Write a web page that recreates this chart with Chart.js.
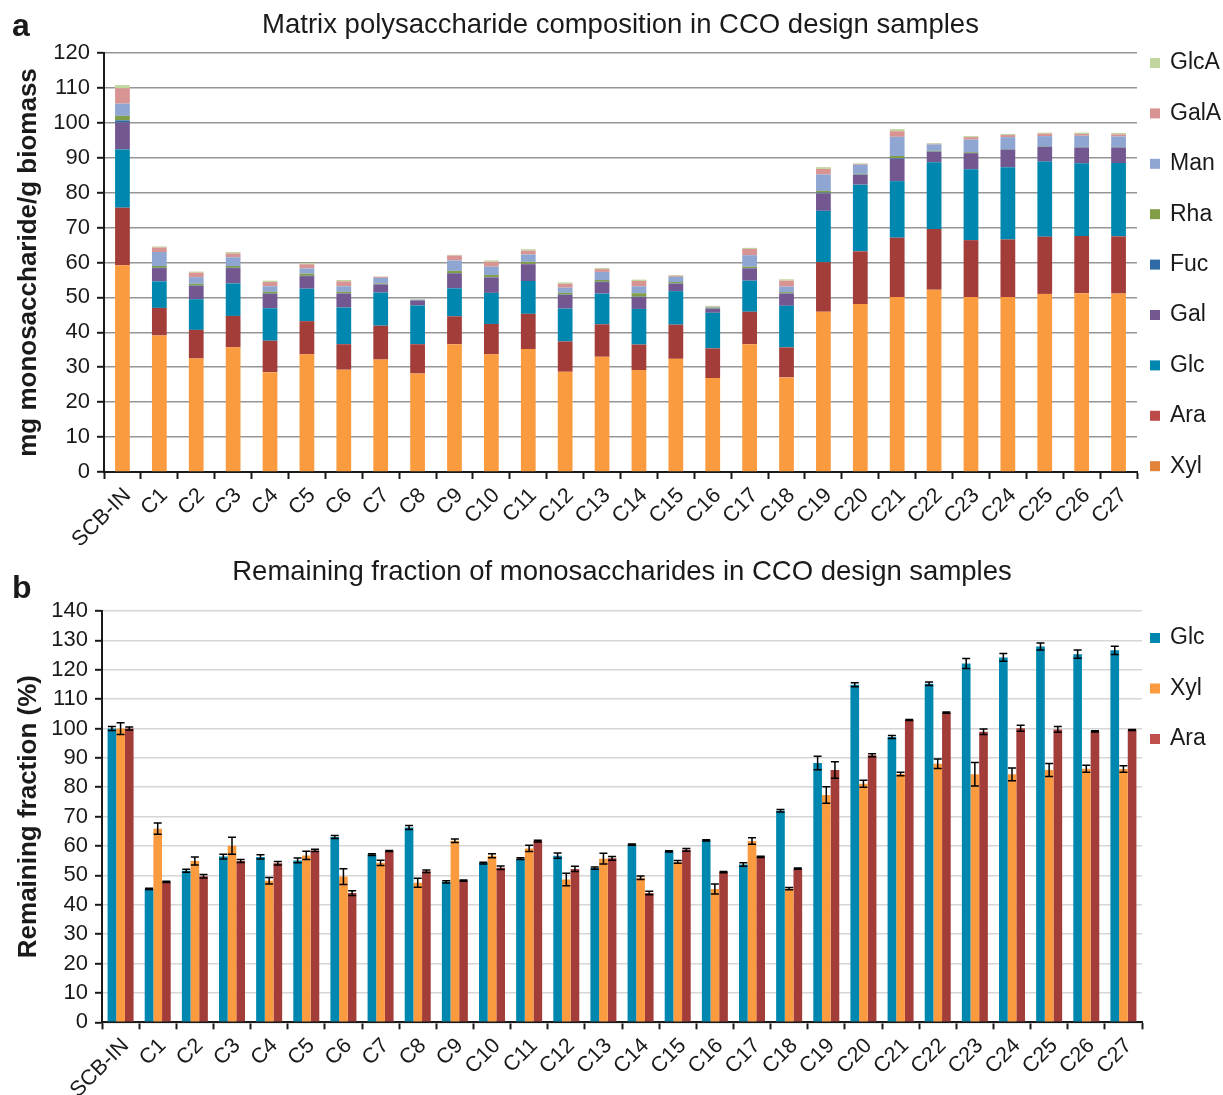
<!DOCTYPE html>
<html>
<head>
<meta charset="utf-8">
<script src="https://cdn.jsdelivr.net/npm/chart.js@4/dist/chart.umd.min.js"></script>
<style>
  html, body { margin: 0; padding: 0; background: #ffffff; }
  #page { position: relative; width: 1223px; height: 1095px; }
  #boxA { position: absolute; left: 0; top: 0; width: 1223px; height: 545px; }
  #boxB { position: absolute; left: 0; top: 545px; width: 1223px; height: 550px; }
</style>
</head>
<body>
<div id="page">
  <div id="boxA"><canvas id="chartA"></canvas></div>
  <div id="boxB"><canvas id="chartB"></canvas></div>
</div>
<script>
// Sample names shared by both panels
const categories = ['SCB-IN', 'C1', 'C2', 'C3', 'C4', 'C5', 'C6', 'C7', 'C8', 'C9', 'C10', 'C11', 'C12', 'C13',
  'C14', 'C15', 'C16', 'C17', 'C18', 'C19', 'C20', 'C21', 'C22', 'C23', 'C24', 'C25', 'C26', 'C27'];

// Panel a: mg monosaccharide per g biomass (stacked)
const xylMass  = [59.2, 39.1, 32.5, 35.7, 28.6, 33.7, 29.3, 32.2, 28.2, 36.6, 33.7, 35.2, 28.7, 33.0, 29.2, 32.4, 26.9, 36.6, 27.1, 45.9, 48.1, 50.1, 52.2, 50.1, 50.1, 51.0, 51.2, 51.1];
const araMass  = [16.5, 7.9, 8.2, 9.0, 9.0, 9.5, 7.3, 9.7, 8.4, 8.0, 8.7, 10.1, 8.7, 9.3, 7.3, 9.8, 8.5, 9.3, 8.6, 14.2, 15.1, 17.0, 17.4, 16.3, 16.5, 16.4, 16.4, 16.4];
const glcMass  = [16.7, 7.6, 8.8, 9.3, 9.3, 9.3, 10.5, 9.5, 11.1, 8.0, 8.9, 9.4, 9.4, 8.8, 10.2, 9.6, 10.2, 8.9, 11.9, 14.7, 19.1, 16.2, 19.1, 20.3, 20.7, 21.5, 20.8, 21.0];
const galMass  = [7.7, 3.8, 3.8, 4.4, 4.1, 3.6, 4.0, 2.3, 1.4, 4.3, 4.4, 4.8, 3.9, 3.3, 3.4, 2.1, 1.1, 3.5, 3.5, 5.0, 2.8, 6.4, 3.0, 4.6, 5.0, 4.2, 4.5, 4.4];
const fucMass  = [0.6, 0.1, 0.1, 0.1, 0.1, 0.1, 0.1, 0.1, 0.1, 0.1, 0.1, 0.1, 0.1, 0.1, 0.1, 0.1, 0.1, 0.1, 0.1, 0.2, 0.1, 0.2, 0.1, 0.1, 0.1, 0.1, 0.1, 0.1];
const rhaMass  = [1.3, 0.5, 0.5, 0.5, 0.5, 0.6, 0.4, 0.2, 0.1, 0.6, 0.6, 0.6, 0.5, 0.5, 1.0, 0.4, 0.3, 0.4, 0.3, 0.5, 0.2, 0.6, 0.2, 0.2, 0.1, 0.1, 0.1, 0.1];
const manMass  = [3.5, 4.0, 1.9, 2.5, 1.6, 1.5, 1.6, 1.6, 0.1, 3.0, 2.4, 2.1, 1.5, 2.3, 2.0, 1.5, 0.2, 3.3, 1.6, 4.7, 2.6, 5.5, 1.8, 3.6, 3.4, 2.9, 3.2, 3.0];
const galaMass = [4.4, 1.3, 1.3, 1.1, 1.2, 1.2, 1.4, 0.3, 0.0, 1.4, 1.4, 1.1, 1.1, 0.8, 1.5, 0.3, 0.1, 1.8, 1.7, 1.6, 0.2, 1.6, 0.2, 0.7, 0.6, 0.7, 0.5, 0.6];
const glcaMass = [0.9, 0.3, 0.3, 0.4, 0.4, 0.3, 0.4, 0.1, 0.1, 0.2, 0.4, 0.4, 0.4, 0.3, 0.4, 0.2, 0.2, 0.3, 0.4, 0.5, 0.2, 0.6, 0.2, 0.3, 0.3, 0.3, 0.4, 0.4];

// Panel b: remaining fraction (%) with standard deviations
const glcRemain = [100.0, 45.4, 51.6, 56.4, 56.3, 55.1, 63.1, 57.1, 66.3, 47.8, 54.2, 55.7, 56.7, 52.5, 60.5, 58.2, 61.9, 53.7, 72.0, 88.3, 114.9, 97.1, 115.2, 122.1, 124.2, 127.9, 125.3, 126.6];
const glcSD     = [0.7, 0.2, 0.5, 0.8, 0.7, 0.8, 0.5, 0.3, 0.7, 0.4, 0.3, 0.3, 0.9, 0.4, 0.2, 0.2, 0.2, 0.6, 0.4, 2.3, 0.7, 0.5, 0.6, 1.7, 1.3, 1.2, 1.4, 1.4];
const xylRemain = [100.0, 65.9, 54.9, 60.1, 48.2, 56.8, 49.6, 54.3, 47.5, 61.8, 56.7, 59.2, 48.6, 55.7, 49.2, 54.6, 45.4, 61.7, 45.5, 77.4, 81.2, 84.5, 88.0, 84.4, 84.4, 85.9, 86.3, 86.2];
const xylSD     = [2.0, 1.9, 1.4, 2.9, 1.1, 1.4, 2.7, 0.9, 1.5, 0.6, 0.7, 1.1, 2.1, 1.8, 0.6, 0.5, 1.7, 1.1, 0.4, 2.8, 1.2, 0.6, 1.6, 4.0, 2.2, 2.2, 1.2, 1.1];
const araRemain = [100.0, 47.8, 49.7, 54.9, 54.1, 58.5, 44.0, 58.3, 51.4, 48.2, 52.6, 61.7, 52.2, 55.8, 44.0, 58.7, 51.1, 56.3, 52.3, 85.9, 90.9, 102.9, 105.4, 98.9, 100.1, 99.7, 99.0, 99.5];
const araSD     = [0.5, 0.2, 0.6, 0.5, 0.6, 0.4, 0.8, 0.2, 0.4, 0.2, 0.6, 0.3, 0.9, 0.6, 0.6, 0.5, 0.2, 0.2, 0.2, 2.8, 0.5, 0.2, 0.2, 0.9, 1.0, 1.0, 0.2, 0.2];

const FONT = '"Liberation Sans", Arial, Helvetica, sans-serif';
const INK = '#1a1a1a';

// Vertical error bars drawn from each dataset's errorBars array
const errorBarPlugin = {
  id: 'errorBars',
  afterDatasetsDraw(chart, args, opts) {
    const ctx = chart.ctx;
    const yScale = chart.scales.y;
    chart.data.datasets.forEach((ds, di) => {
      if (!ds.errorBars) return;
      const meta = chart.getDatasetMeta(di);
      ctx.save();
      ctx.strokeStyle = opts.color;
      ctx.lineWidth = opts.lineWidth;
      meta.data.forEach((bar, i) => {
        const v = ds.data[i];
        const e = ds.errorBars[i];
        const x = bar.x;
        const yHi = yScale.getPixelForValue(v + e);
        const yLo = yScale.getPixelForValue(v - e);
        const half = opts.capWidth / 2;
        ctx.beginPath();
        ctx.moveTo(x, yHi); ctx.lineTo(x, yLo);
        ctx.moveTo(x - half, yHi); ctx.lineTo(x + half, yHi);
        ctx.moveTo(x - half, yLo); ctx.lineTo(x + half, yLo);
        ctx.stroke();
      });
      ctx.restore();
    });
  }
};

// Column legend on the right-hand side, one square swatch per dataset
const sideLegendPlugin = {
  id: 'sideLegend',
  afterDraw(chart, args, opts) {
    const ctx = chart.ctx;
    let items = chart.data.datasets.map(ds => ({ text: ds.label, color: ds.legendColor || ds.backgroundColor }));
    if (opts.reverse) items = items.reverse();
    ctx.save();
    ctx.font = opts.font;
    ctx.textBaseline = 'middle';
    ctx.textAlign = 'left';
    items.forEach((it, i) => {
      const cy = opts.top + i * opts.spacing;
      ctx.fillStyle = it.color;
      ctx.fillRect(opts.left, cy - opts.box / 2, opts.box, opts.box);
      ctx.fillStyle = opts.color;
      ctx.fillText(it.text, opts.left + opts.box + opts.gap, cy);
    });
    ctx.restore();
  }
};

// Bold panel letter in the top-left corner
const panelLetterPlugin = {
  id: 'panelLetter',
  afterDraw(chart, args, opts) {
    const ctx = chart.ctx;
    ctx.save();
    ctx.font = opts.font;
    ctx.fillStyle = INK;
    ctx.textBaseline = 'alphabetic';
    ctx.textAlign = 'left';
    ctx.fillText(opts.text, opts.x, opts.y);
    ctx.restore();
  }
};

Chart.register(errorBarPlugin, sideLegendPlugin, panelLetterPlugin);

function commonX(height) {
  return {
    ticks: { font: { family: FONT, size: 21.5 }, color: INK, minRotation: 45, maxRotation: 45, padding: 4, labelOffset: 5, autoSkip: false },
    grid: { drawOnChartArea: false, drawTicks: true, tickLength: 7, tickColor: INK, tickWidth: 2, offset: true },
    border: { color: INK, width: 2 },
    afterFit(scale) { scale.height = height; }
  };
}

function commonY(width, max, title, gridColor) {
  return {
    min: 0, max: max,
    ticks: { stepSize: 10, autoSkip: false, font: { family: FONT, size: 22 }, color: INK, padding: 7 },
    grid: { color: gridColor, lineWidth: 1.6, tickColor: INK, tickLength: 7, tickWidth: 2 },
    border: { color: INK, width: 2 },
    title: { display: true, text: title, font: { family: FONT, size: 26, weight: 'bold' }, color: INK, padding: { top: 13, bottom: 0 } },
    afterFit(scale) { scale.width = width; }
  };
}

// Panel a: stacked composition
new Chart(document.getElementById('chartA'), {
  type: 'bar',
  data: {
    labels: categories,
    datasets: [
      { label: 'Xyl',  data: xylMass,  backgroundColor: '#FB9B40', legendColor: '#E2833A' },
      { label: 'Ara',  data: araMass,  backgroundColor: '#A33D3A', legendColor: '#BB4A48' },
      { label: 'Glc',  data: glcMass,  backgroundColor: '#0087AF' },
      { label: 'Gal',  data: galMass,  backgroundColor: '#735790' },
      { label: 'Fuc',  data: fucMass,  backgroundColor: '#2D6AA6' },
      { label: 'Rha',  data: rhaMass,  backgroundColor: '#819D47' },
      { label: 'Man',  data: manMass,  backgroundColor: '#8FA6D3' },
      { label: 'GalA', data: galaMass, backgroundColor: '#D89492' },
      { label: 'GlcA', data: glcaMass, backgroundColor: '#C0D69E' }
    ]
  },
  options: {
    responsive: true,
    maintainAspectRatio: false,
    animation: false,
    datasets: { bar: { categoryPercentage: 1.0, barPercentage: 0.4 } },
    layout: { padding: { left: 0, right: 86, top: 0, bottom: 0 } },
    scales: {
      x: Object.assign({ stacked: true }, commonX(73)),
      y: Object.assign({ stacked: true }, commonY(104, 120, 'mg monosaccharide/g biomass', '#959595'))
    },
    plugins: {
      legend: { display: false },
      tooltip: { enabled: false },
      title: {
        display: true, fullSize: false,
        text: 'Matrix polysaccharide composition in CCO design samples',
        font: { family: FONT, size: 27.5, weight: 'normal' }, color: INK,
        padding: { top: 8.5, bottom: 11.5 }
      },
      sideLegend: { left: 1150, top: 63, spacing: 50.4, box: 10, gap: 10, reverse: true, font: '23px ' + FONT, color: INK },
      panelLetter: { text: 'a', x: 12, y: 36, font: 'bold 32px ' + FONT }
    }
  }
});

// Panel b: remaining fractions with error bars
new Chart(document.getElementById('chartB'), {
  type: 'bar',
  data: {
    labels: categories,
    datasets: [
      { label: 'Glc', data: glcRemain, errorBars: glcSD, backgroundColor: '#0087AF' },
      { label: 'Xyl', data: xylRemain, errorBars: xylSD, backgroundColor: '#FB9B40' },
      { label: 'Ara', data: araRemain, errorBars: araSD, backgroundColor: '#A33D3A', legendColor: '#C0504D' }
    ]
  },
  options: {
    responsive: true,
    maintainAspectRatio: false,
    animation: false,
    datasets: { bar: { categoryPercentage: 0.70, barPercentage: 1.0 } },
    layout: { padding: { left: 0, right: 81, top: 0, bottom: 0 } },
    scales: {
      x: commonX(72.7),
      y: commonY(102, 140, 'Remaining fraction (%)', '#D6D6D6')
    },
    plugins: {
      legend: { display: false },
      tooltip: { enabled: false },
      title: {
        display: true, fullSize: false,
        text: 'Remaining fraction of monosaccharides in CCO design samples',
        font: { family: FONT, size: 27.5, weight: 'normal' }, color: INK,
        padding: { top: 10.5, bottom: 22.5 }
      },
      errorBars: { color: '#000000', lineWidth: 1.5, capWidth: 8 },
      sideLegend: { left: 1150, top: 93, spacing: 50.5, box: 10, gap: 10, reverse: false, font: '23px ' + FONT, color: INK },
      panelLetter: { text: 'b', x: 12, y: 53, font: 'bold 32px ' + FONT }
    }
  }
});
</script>
</body>
</html>
